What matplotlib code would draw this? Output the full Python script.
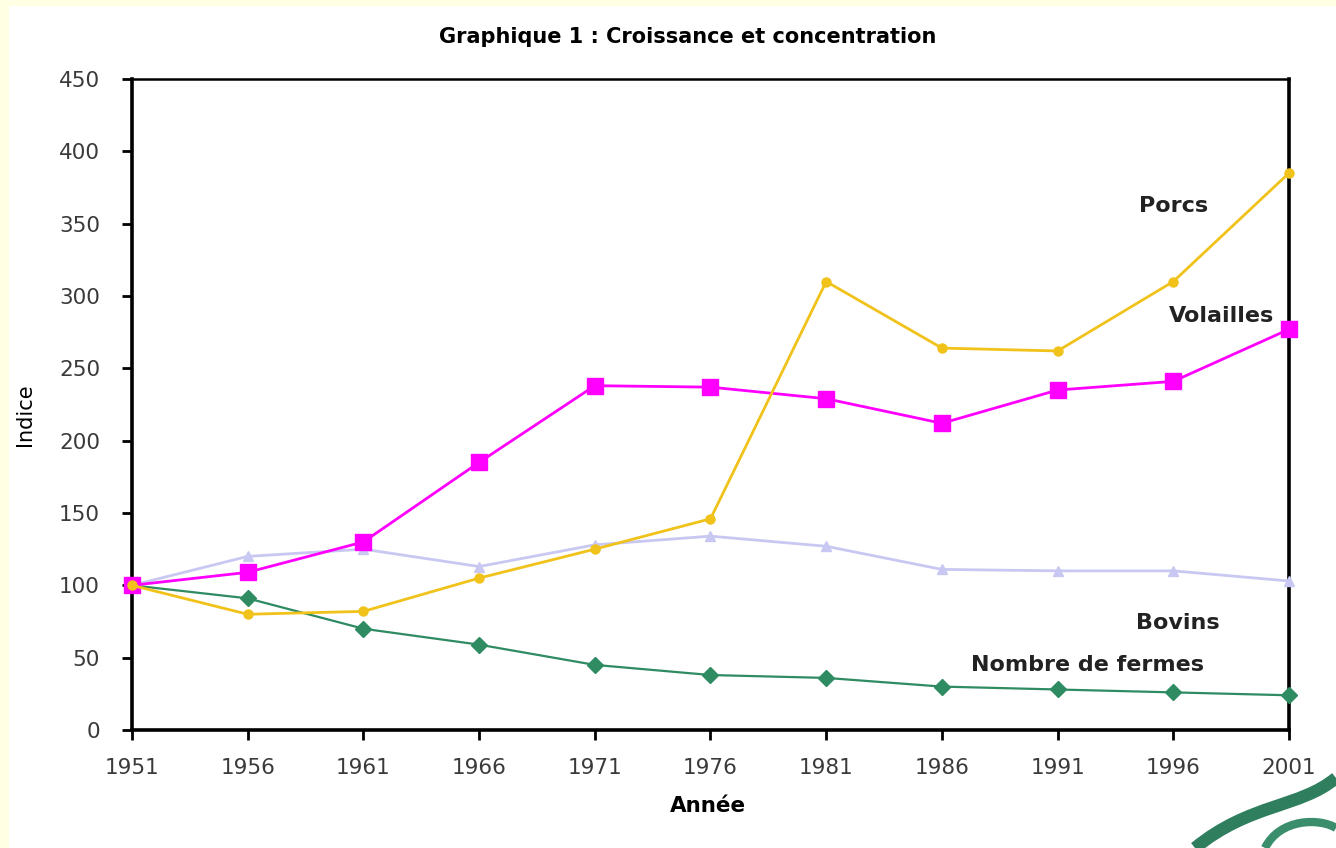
import numpy as np
import matplotlib
matplotlib.use('Agg')
import matplotlib.pyplot as plt
from matplotlib.patches import Rectangle, PathPatch
from matplotlib.path import Path

years = [1951, 1956, 1961, 1966, 1971, 1976, 1981, 1986, 1991, 1996, 2001]
porcs = [100, 80, 82, 105, 125, 146, 310, 264, 262, 310, 385]
volailles = [100, 109, 130, 185, 238, 237, 229, 212, 235, 241, 277]
bovins = [100, 120, 125, 113, 128, 134, 127, 111, 110, 110, 103]
fermes = [100, 91, 70, 59, 45, 38, 36, 30, 28, 26, 24]

yticks = list(range(0, 451, 50))

fig = plt.figure(figsize=(13.36, 8.48), dpi=100)
fig.patch.set_facecolor('#FFFFE4')
# white panel of the slide
fig.patches.append(Rectangle((9/1336, 0), 1 - 9/1336, 1 - 6/848,
                             transform=fig.transFigure, facecolor='white',
                             edgecolor='none', zorder=-2))

ax = fig.add_axes([132/1336, 1 - 730/848, (1289 - 132)/1336, (730 - 79)/848])
ax.set_facecolor('white')

ax.plot(years, bovins, color='#C8C8F2', lw=2, marker='^', ms=7, clip_on=False, zorder=3)
ax.plot(years, fermes, color='#2E8B62', lw=1.6, marker='D', ms=8, clip_on=False, zorder=4)
ax.plot(years, porcs, color='#F0C21A', lw=2, marker='o', ms=6.5, clip_on=False, zorder=5)
ax.plot(years, volailles, color='#FF00FF', lw=2, marker='s', ms=11, clip_on=False, zorder=4)

ax.set_xlim(1951, 2001)
ax.set_ylim(0, 450)
ax.set_xticks(years)
ax.set_yticks(yticks)

for s in ['left', 'bottom', 'right']:
    ax.spines[s].set_linewidth(2.6)
ax.spines['top'].set_linewidth(1.8)
ax.tick_params(direction='out', length=7, width=2, labelsize=15.5,
               labelcolor='#3a3a3a')
ax.tick_params(axis='x', pad=13)
ax.tick_params(axis='y', pad=16)

ax.set_xlabel('Année', fontsize=15.5, fontweight='bold')
ax.set_ylabel('Indice', fontsize=15, family=['Liberation Sans Narrow', 'DejaVu Sans'])
ax.xaxis.set_label_coords((708 - 132)/1157, -(806 - 730)/651)
ax.yaxis.set_label_coords(-(132 - 25)/1157, (730 - 415)/651)
ax.xaxis.label.set_va('center')
ax.yaxis.label.set_va('center')

fig.text(688/1336, 1 - 37/848, 'Graphique 1 : Croissance et concentration',
         ha='center', va='center', fontsize=15, fontweight='bold')

lab = dict(ha='center', va='center', fontsize=16, fontweight='bold', color='#222222')
ax.text(1996.0, 362, 'Porcs', **lab)
ax.text(1998.1, 286, 'Volailles', **lab)
ax.text(1996.2, 74, 'Bovins', **lab)
ax.text(1992.3, 45, 'Nombre de fermes', **lab)

# green swoosh decoration in the corner
W, H = 1336, 848
verts = [(1195/W, 0), (1250/W, 45/H), (1300/W, 40/H), (1336/W, 70/H)]
sw = Path(verts, [Path.MOVETO, Path.CURVE4, Path.CURVE4, Path.CURVE4])
fig.patches.append(PathPatch(sw, transform=fig.transFigure, fill=False,
                             edgecolor='#2F7F5F', lw=9, zorder=-1))
verts2 = [(1265/W, 0), (1280/W, 30/H), (1320/W, 30/H), (1336/W, 20/H)]
sw2 = Path(verts2, [Path.MOVETO, Path.CURVE4, Path.CURVE4, Path.CURVE4])
fig.patches.append(PathPatch(sw2, transform=fig.transFigure, fill=False,
                             edgecolor='#3A8E6C', lw=6, zorder=-1))

fig.savefig('out.png', dpi=100, facecolor=fig.get_facecolor())
